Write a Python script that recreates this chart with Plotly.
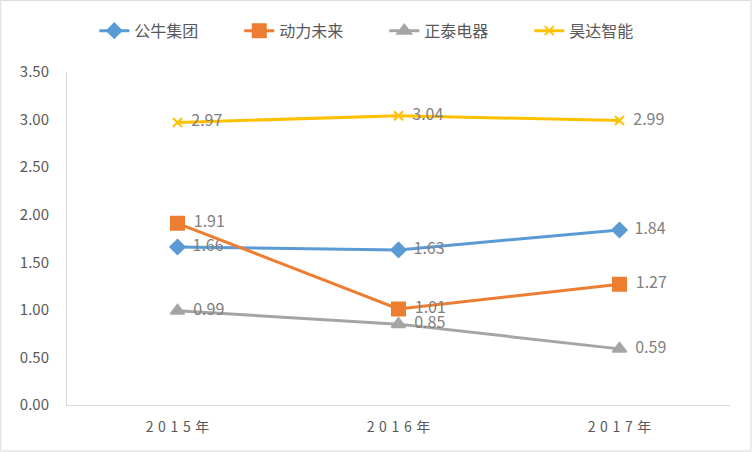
import plotly.graph_objects as go

years = ['2015年', '2016年', '2017年']
year_labels = ['2\u20040\u20041\u20045\u2004年', '2\u20040\u20041\u20046\u2004年', '2\u20040\u20041\u20047\u2004年']
gongniu = [1.66, 1.63, 1.84]
dongli = [1.91, 1.01, 1.27]
zhengtai = [0.99, 0.85, 0.59]
haoda = [2.97, 3.04, 2.99]

series = [
    ('公牛集团', gongniu, '#5B9BD5', 'diamond', 11),
    ('动力未来', dongli, '#ED7D31', 'square', 13),
    ('正泰电器', zhengtai, '#A5A5A5', 'triangle-up', 12),
    ('昊达智能', haoda, '#FFC000', 'x-thin', 9),
]

fig = go.Figure()
for name, vals, color, sym, size in series:
    fig.add_trace(go.Scatter(
        x=years, y=vals, name=name,
        mode='lines+markers+text',
        line=dict(color=color, width=3),
        marker=dict(symbol=sym, size=size, color=color,
                    line=dict(color=color, width=2)),
        text=[f'  {v:.2f}' for v in vals],
        textposition='middle right',
        textfont=dict(color='#7F7F7F', size=16),
        cliponaxis=False,
    ))

fig.update_layout(
    width=752, height=452,
    margin=dict(l=67, r=22, t=72, b=47, autoexpand=False),
    paper_bgcolor='white', plot_bgcolor='white',
    font=dict(family='Noto Sans CJK SC, sans-serif', color='#595959', size=15),
    legend=dict(orientation='h', x=0.511, xanchor='center', xref='container',
                y=0.932, yanchor='middle', yref='container',
                font=dict(size=16), entrywidth=100, entrywidthmode='pixels'),
    xaxis=dict(range=[-0.5, 2.5], showline=True, linecolor='#D9D9D9', linewidth=1,
               showgrid=False, ticks='', tickfont=dict(size=14),
               tickvals=years, ticktext=year_labels, automargin=False,
               ticklabelstandoff=9),
    yaxis=dict(range=[0, 3.5], dtick=0.5, tickformat='.2f', showline=True,
               linecolor='#D9D9D9', linewidth=1, showgrid=False, zeroline=False,
               ticks='', tickfont=dict(size=15), automargin=False,
               ticklabelstandoff=14),
    shapes=[dict(type='rect', xref='paper', yref='paper', x0=-0.1, x1=1.0317,
                 y0=-0.138, y1=1.215, line=dict(color='#D9D9D9', width=1))],
)

fig.write_html('out.html', config={'displayModeBar': False},
               post_script="document.body.style.margin='0';")
